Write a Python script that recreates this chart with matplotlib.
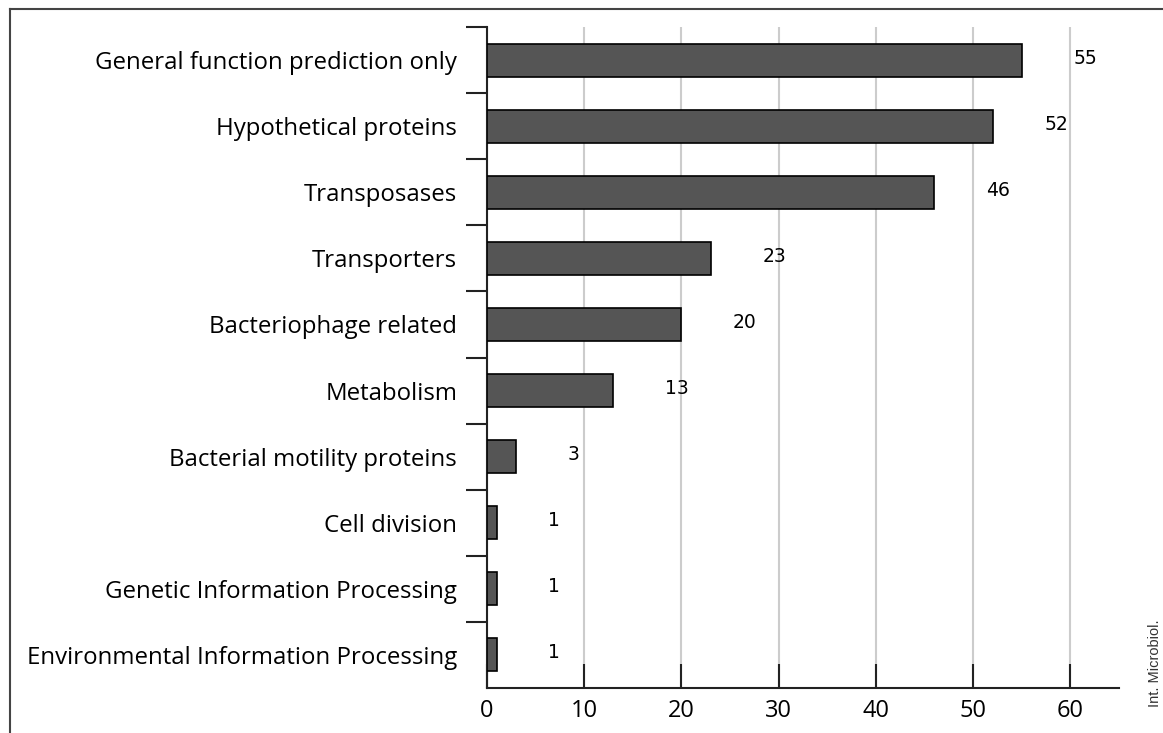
import matplotlib
matplotlib.use("Agg")
import matplotlib.pyplot as plt
from matplotlib.lines import Line2D
import numpy as np

categories = [
    "General function prediction only",
    "Hypothetical proteins",
    "Transposases",
    "Transporters",
    "Bacteriophage related",
    "Metabolism",
    "Bacterial motility proteins",
    "Cell division",
    "Genetic Information Processing",
    "Environmental Information Processing",
]
counts = [55, 52, 46, 23, 20, 13, 3, 1, 1, 1]
xticks = [0, 10, 20, 30, 40, 50, 60]

fig = plt.figure(figsize=(11.63, 7.33), dpi=100)
ax = fig.add_axes([487/1163, 1 - 688/733, (1119 - 487)/1163, (688 - 27)/733])

y = np.arange(len(categories))
ax.barh(y, counts, height=0.5, color="#555555", edgecolor="black", linewidth=1.2, zorder=3)
for yi, v in zip(y, counts):
    ax.text(v + 5.3, yi - 0.03, str(v), ha="left", va="center", fontsize=13.5,
            family="DejaVu Sans", color="#000000")

ax.set_xlim(0, 65)
ax.set_ylim(len(categories) - 0.5, -0.5)
ax.set_xticks(xticks)
ax.set_xticklabels([str(t) for t in xticks], family="Open Sans", fontsize=17)
ax.tick_params(axis="x", direction="in", length=17, width=1.5, pad=8, color="#222222")
ax.set_yticks(y)
ax.set_yticklabels(categories, family="Open Sans", fontsize=17.3)
ax.tick_params(axis="y", which="major", length=0, pad=21.5)
ax.set_yticks(np.arange(-0.5, len(categories) - 0.5, 1.0), minor=True)
ax.tick_params(axis="y", which="minor", direction="out", length=15, width=1.5, color="#222222")

ax.grid(axis="x", color="#cccccc", linewidth=1.5, zorder=0)
ax.set_axisbelow(True)
for s in ["top", "right"]:
    ax.spines[s].set_visible(False)
for s in ["left", "bottom"]:
    ax.spines[s].set_linewidth(1.5)
    ax.spines[s].set_color("#222222")

# outer frame lines (top and left)
fig.add_artist(Line2D([10/1163, 1], [1 - 9/733, 1 - 9/733], transform=fig.transFigure,
                      color="#444444", linewidth=1.5))
fig.add_artist(Line2D([10/1163, 10/1163], [0, 1 - 9/733], transform=fig.transFigure,
                      color="#444444", linewidth=1.5))

fig.text(1155/1163, 1 - 663/733, "Int. Microbiol.", rotation=90, ha="center", va="center",
         fontsize=10.5, family="Liberation Sans", color="#333333")

fig.savefig("out.png", dpi=100)
